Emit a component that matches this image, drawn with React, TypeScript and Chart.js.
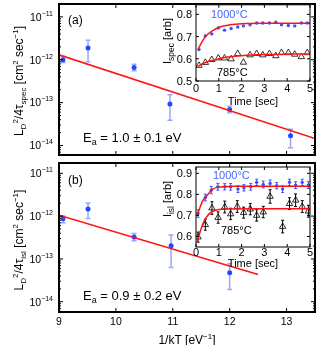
import React, { useEffect, useRef } from 'react';
import { Chart, registerables } from 'chart.js';

Chart.register(...registerables);

const FONT = '"Liberation Sans", Arial, Helvetica, sans-serif';
const BLUE = '#2446ff';
const BLUE_ERR = 'rgba(80,110,255,0.6)';
const INSET_BLUE = '#3355ff';
const RED = '#ff1414';

// ---------- Panel (a): L_D^2/4tau_spec vs 1/kT ----------
const invKT_a = [9.07, 9.51, 10.32, 10.95, 12.0, 13.07];
const spec_a = [1.0e-12, 1.87e-12, 6.6e-13, 9.3e-14, 6.9e-14, 1.69e-14];
const specLow_a = [0.86e-12, 0.9e-12, 5.5e-13, 3.9e-14, 5.8e-14, 0.89e-14];
const specHigh_a = [1.2e-12, 2.85e-12, 7.8e-13, 1.52e-13, 8.2e-14, 2.4e-14];
const fitX_a = [9, 13.5];
const fitY_a = [1.3e-12, 1.45e-14];

// ---------- Panel (b): L_D^2/4tau_isl vs 1/kT ----------
const invKT_b = [9.07, 9.51, 10.32, 10.97, 12.0];
const isl_b = [0.87e-12, 1.47e-12, 3.27e-13, 2.03e-13, 4.75e-14];
const islLow_b = [0.7e-12, 0.88e-12, 2.65e-13, 0.63e-13, 1.92e-14];
const islHigh_b = [1.0e-12, 2.03e-12, 3.9e-13, 3.64e-13, 7.7e-14];
const fitX_b = [9, 12.5];
const fitY_b = [1.05e-12, 4.3e-14];

const xTicksMain = [9, 10, 11, 12, 13];
const decadeTicks = [1e-14, 1e-13, 1e-12, 1e-11];

// ---------- Inset (a): I_spec vs time ----------
const tA = [0.13, 0.41, 0.69, 0.98, 1.25, 1.54, 1.83, 2.08, 2.37, 2.66, 2.93, 3.22, 3.5, 3.75, 4.05, 4.33, 4.62, 4.88];
const specHot = [0.642, 0.703, 0.712, 0.739, 0.729, 0.736, 0.743, 0.748, 0.753, 0.761, 0.761, 0.761, 0.765, 0.753, 0.75, 0.748, 0.761, 0.761];
const specCold = [0.57, 0.583, 0.596, 0.603, 0.603, 0.599, 0.623, 0.584, 0.617, 0.623, 0.617, 0.623, 0.613, 0.627, 0.627, 0.62, 0.609, 0.627];
const fitT_aHot = [0.1, 0.3, 0.5, 0.75, 1.0, 1.5, 2.0, 3.0, 4.0, 5.0];
const fitI_aHot = [0.645, 0.683, 0.709, 0.728, 0.741, 0.753, 0.758, 0.76, 0.76, 0.76];
const fitT_aCold = [0.06, 0.3, 0.6, 1.0, 1.5, 2.0, 3.0, 4.0, 5.0];
const fitI_aCold = [0.565, 0.578, 0.59, 0.6, 0.609, 0.614, 0.619, 0.621, 0.622];
const insetATicksY = [0.5, 0.6, 0.7, 0.8];

// ---------- Inset (b): I_isl vs time ----------
const tBHot = [0.09, 0.41, 0.67, 0.96, 1.26, 1.52, 1.84, 2.1, 2.4, 2.66, 2.95, 3.25, 3.54, 3.8, 4.1, 4.37, 4.66, 4.93];
const islHot = [0.709, 0.785, 0.82, 0.836, 0.836, 0.836, 0.825, 0.831, 0.836, 0.857, 0.847, 0.852, 0.841, 0.825, 0.857, 0.844, 0.857, 0.844];
const islHotErr = [0.018, 0.016, 0.017, 0.016, 0.015, 0.016, 0.016, 0.015, 0.016, 0.015, 0.016, 0.016, 0.015, 0.016, 0.015, 0.016, 0.015, 0.016];
const tBCold = [0.09, 0.41, 0.7, 0.97, 1.26, 1.52, 1.81, 2.09, 2.38, 2.66, 2.95, 3.25, 3.8, 4.1, 4.37, 4.66, 4.93];
const islCold = [0.597, 0.656, 0.735, 0.69, 0.74, 0.707, 0.742, 0.713, 0.73, 0.7, 0.716, 0.79, 0.647, 0.756, 0.772, 0.742, 0.72];
const islColdErr = [0.024, 0.026, 0.03, 0.027, 0.028, 0.027, 0.028, 0.026, 0.027, 0.027, 0.027, 0.032, 0.03, 0.028, 0.03, 0.028, 0.028];
const fitT_bHot = [0.05, 0.2, 0.3, 0.45, 0.6, 0.75, 1.0, 1.5, 2.5, 5.0];
const fitI_bHot = [0.7, 0.745, 0.77, 0.79, 0.81, 0.826, 0.834, 0.838, 0.839, 0.839];
const fitT_bCold = [0.05, 0.15, 0.3, 0.45, 0.6, 0.8, 1.0, 1.5, 2.5, 5.0];
const fitI_bCold = [0.57, 0.61, 0.66, 0.69, 0.71, 0.722, 0.728, 0.731, 0.732, 0.732];
const insetBTicksY = [0.6, 0.7, 0.8, 0.9];
const timeTicks = [0, 1, 2, 3, 4, 5];

// ---------- helpers ----------
type Seg = [string, number, number];
interface TextItem { segs: Seg[]; x: number; y: number; align: 'left' | 'center' | 'right'; rotate?: boolean; color?: string; }
interface ErrSet { xs: number[]; lows: number[]; highs: number[]; color: string; width: number; cap: number; }
interface DecoCfg {
  ox: number; oy: number;
  boxWidth: number;
  xTickVals: number[]; xTickLen: number;
  yMajor: number[]; yMinor: number[]; yTickLen: number; yMinorLen: number;
  xLabels?: { vals: number[]; baseline: number; size: number };
  yLabels?: { vals: number[]; right: number; size: number; segs: (v: number) => Seg[] };
  errs: ErrSet[];
  texts: TextItem[];
}

const pts = (xs: number[], ys: number[]) => xs.map((x, i) => ({ x, y: ys[i] }));

function drawRich(ctx: CanvasRenderingContext2D, t: TextItem, ox: number, oy: number) {
  ctx.save();
  ctx.fillStyle = t.color || '#000';
  ctx.textBaseline = 'alphabetic';
  ctx.textAlign = 'left';
  let total = 0;
  const widths = t.segs.map(([s, size]) => {
    ctx.font = `${size}px ${FONT}`;
    const w = ctx.measureText(s).width;
    total += w;
    return w;
  });
  ctx.translate(t.x - ox, t.y - oy);
  if (t.rotate) ctx.rotate(-Math.PI / 2);
  let cx = t.align === 'left' ? 0 : t.align === 'center' ? -total / 2 : -total;
  t.segs.forEach(([s, size, dy], i) => {
    ctx.font = `${size}px ${FONT}`;
    ctx.fillText(s, cx, dy);
    cx += widths[i];
  });
  ctx.restore();
}

function makeDeco(id: string, cfg: DecoCfg) {
  return {
    id,
    beforeDraw(chart: any) {
      const { ctx, chartArea: a } = chart;
      ctx.save();
      ctx.fillStyle = '#fff';
      ctx.fillRect(a.left, a.top, a.right - a.left, a.bottom - a.top);
      ctx.restore();
    },
    beforeDatasetsDraw(chart: any) {
      const { ctx, chartArea: a, scales } = chart;
      const x = scales.x, y = scales.y;
      ctx.save();
      ctx.beginPath();
      ctx.rect(a.left, a.top, a.right - a.left, a.bottom - a.top);
      ctx.clip();
      for (const eb of cfg.errs) {
        ctx.strokeStyle = eb.color;
        ctx.lineWidth = eb.width;
        eb.xs.forEach((xv, i) => {
          const px = x.getPixelForValue(xv);
          const lo = y.getPixelForValue(eb.lows[i]);
          const hi = y.getPixelForValue(eb.highs[i]);
          ctx.beginPath();
          ctx.moveTo(px, lo); ctx.lineTo(px, hi);
          ctx.moveTo(px - eb.cap, lo); ctx.lineTo(px + eb.cap, lo);
          ctx.moveTo(px - eb.cap, hi); ctx.lineTo(px + eb.cap, hi);
          ctx.stroke();
        });
      }
      ctx.restore();
    },
    afterDraw(chart: any) {
      const { ctx, chartArea: a, scales } = chart;
      const x = scales.x, y = scales.y;
      ctx.save();
      ctx.strokeStyle = '#000';
      ctx.lineWidth = 1;
      ctx.beginPath();
      cfg.xTickVals.forEach((v) => {
        const px = x.getPixelForValue(v);
        ctx.moveTo(px, a.bottom); ctx.lineTo(px, a.bottom - cfg.xTickLen);
        ctx.moveTo(px, a.top); ctx.lineTo(px, a.top + cfg.xTickLen);
      });
      cfg.yMajor.forEach((v) => {
        const py = y.getPixelForValue(v);
        ctx.moveTo(a.left, py); ctx.lineTo(a.left + cfg.yTickLen, py);
        ctx.moveTo(a.right, py); ctx.lineTo(a.right - cfg.yTickLen, py);
      });
      cfg.yMinor.forEach((v) => {
        const py = y.getPixelForValue(v);
        ctx.moveTo(a.left, py); ctx.lineTo(a.left + cfg.yMinorLen, py);
        ctx.moveTo(a.right, py); ctx.lineTo(a.right - cfg.yMinorLen, py);
      });
      ctx.stroke();
      ctx.lineWidth = cfg.boxWidth;
      ctx.strokeRect(a.left, a.top, a.right - a.left, a.bottom - a.top);
      ctx.restore();

      if (cfg.xLabels) {
        const xl = cfg.xLabels;
        xl.vals.forEach((v) => {
          drawRich(ctx, { segs: [[String(v), xl.size, 0]], x: x.getPixelForValue(v) + cfg.ox, y: xl.baseline, align: 'center' }, cfg.ox, cfg.oy);
        });
      }
      if (cfg.yLabels) {
        const yl = cfg.yLabels;
        yl.vals.forEach((v) => {
          drawRich(ctx, { segs: yl.segs(v), x: yl.right, y: y.getPixelForValue(v) + cfg.oy + yl.size * 0.36, align: 'right' }, cfg.ox, cfg.oy);
        });
      }
      cfg.texts.forEach((t) => drawRich(ctx, t, cfg.ox, cfg.oy));
    },
  };
}

function logMinor(decades: number[]) {
  const out: number[] = [];
  const e0 = Math.round(Math.log10(decades[0])) - 1;
  const e1 = Math.round(Math.log10(decades[decades.length - 1]));
  for (let e = e0; e <= e1; e++) for (let m = 2; m <= 9; m++) out.push(m * Math.pow(10, e));
  return out;
}

const decadeSegs = (v: number): Seg[] => [['10', 10.5, 0], ['\u2212' + String(Math.abs(Math.round(Math.log10(v)))), 7, -5]];
const fixed1 = (v: number): Seg[] => [[v.toFixed(1), 11, 0]];

function mainConfig(p: any) {
  const minorAll = logMinor(decadeTicks).filter((v) => v > p.yMin && v < p.yMax);
  return {
    type: 'scatter',
    data: {
      datasets: [
        { data: pts(p.fitX, p.fitY), showLine: true, borderColor: RED, borderWidth: 1.6, pointRadius: 0, fill: false },
        { data: pts(p.xs, p.ys), showLine: false, pointRadius: 2.5, pointBorderWidth: 0, pointBackgroundColor: BLUE, backgroundColor: BLUE, borderColor: BLUE },
      ],
    },
    options: {
      responsive: false,
      animation: false,
      events: [],
      layout: { padding: { top: p.padTop, right: 10, left: 0, bottom: 0 } },
      plugins: { legend: { display: false }, tooltip: { enabled: false }, title: { display: false } },
      scales: {
        x: { type: 'linear', min: 9, max: 13.5, ticks: { display: false }, grid: { display: false }, border: { display: false }, afterFit: (s: any) => { s.height = p.xAxisH; } },
        y: { type: 'logarithmic', min: p.yMin, max: p.yMax, ticks: { display: false }, grid: { display: false }, border: { display: false }, afterFit: (s: any) => { s.width = 59; } },
      },
    },
    plugins: [
      makeDeco(p.id, {
        ox: 0, oy: p.oy, boxWidth: 2,
        xTickVals: xTicksMain, xTickLen: 4,
        yMajor: decadeTicks, yMinor: minorAll, yTickLen: 4, yMinorLen: 2,
        xLabels: p.xLabels,
        yLabels: { vals: decadeTicks.filter((v) => v >= p.yMin && v <= p.yMax), right: 53, size: 10.5, segs: decadeSegs },
        errs: [{ xs: p.xs, lows: p.lows, highs: p.highs, color: BLUE_ERR, width: 1.5, cap: 2.5 }],
        texts: p.texts,
      }),
    ],
  };
}

function insetConfig(p: any) {
  return {
    type: 'scatter',
    data: {
      datasets: [
        { data: pts(p.fitHotT, p.fitHotI), showLine: true, borderColor: RED, borderWidth: 1.5, pointRadius: 0, cubicInterpolationMode: 'monotone', fill: false },
        { data: pts(p.fitColdT, p.fitColdI), showLine: true, borderColor: RED, borderWidth: 1.5, pointRadius: 0, cubicInterpolationMode: 'monotone', fill: false },
        { data: pts(p.hotT, p.hotI), showLine: false, pointRadius: 1.7, pointBorderWidth: 0, pointBackgroundColor: INSET_BLUE, backgroundColor: INSET_BLUE, borderColor: INSET_BLUE },
        { data: pts(p.coldT, p.coldI), showLine: false, pointStyle: 'triangle', pointRadius: 3.7, pointBorderWidth: 0.8, pointBorderColor: '#000', pointBackgroundColor: 'rgba(0,0,0,0)', borderColor: '#000', backgroundColor: 'rgba(0,0,0,0)' },
      ],
    },
    options: {
      responsive: false,
      animation: false,
      events: [],
      layout: { padding: { top: p.padTop, right: 10, left: 0, bottom: 0 } },
      plugins: { legend: { display: false }, tooltip: { enabled: false }, title: { display: false } },
      scales: {
        x: { type: 'linear', min: 0, max: 5, ticks: { display: false }, grid: { display: false }, border: { display: false }, afterFit: (s: any) => { s.height = p.xAxisH; } },
        y: { type: 'linear', min: p.yMin, max: p.yMax, ticks: { display: false }, grid: { display: false }, border: { display: false }, afterFit: (s: any) => { s.width = 36; } },
      },
    },
    plugins: [
      makeDeco(p.id, {
        ox: 160, oy: p.oy, boxWidth: 1,
        xTickVals: timeTicks, xTickLen: 3,
        yMajor: p.yTicks, yMinor: [], yTickLen: 3, yMinorLen: 0,
        xLabels: { vals: timeTicks, baseline: p.xLabelBase, size: 11 },
        yLabels: { vals: p.yTicks, right: 192, size: 11, segs: fixed1 },
        errs: p.errs,
        texts: p.texts,
      }),
    ],
  };
}

function ChartCanvas({ left, top, width, height, build }: { left: number; top: number; width: number; height: number; build: () => any }) {
  const ref = useRef<HTMLCanvasElement>(null);
  useEffect(() => {
    const chart = new Chart(ref.current as HTMLCanvasElement, build());
    return () => chart.destroy();
  }, []);
  return <canvas ref={ref} width={width} height={height} style={{ position: 'absolute', left, top, width, height, display: 'block' }} />;
}

const buildMainA = () => mainConfig({
  id: 'decoMainA', oy: 0, padTop: 2, xAxisH: 5,
  xs: invKT_a, ys: spec_a, lows: specLow_a, highs: specHigh_a, fitX: fitX_a, fitY: fitY_a,
  yMin: Math.pow(10, -14.2), yMax: Math.pow(10, -10.7),
  texts: [
    { segs: [['(a)', 12, 0]], x: 68, y: 24.3, align: 'left' },
    { segs: [['E', 13, 0], ['a', 9, 3], [' = 1.0 \u00b1 0.1 eV', 13, 0]], x: 83, y: 141.7, align: 'left' },
    { segs: [['L', 12, 0], ['D', 8, 3], ['2', 8, -5], ['/4\u03c4', 12, 0], ['spec', 8, 3], [' [cm', 12, 0], ['2', 8, -5], [' sec', 12, 0], ['\u22121', 8, -5], [']', 12, 0]], x: 22.5, y: 81, align: 'center', rotate: true },
  ],
});

const buildMainB = () => mainConfig({
  id: 'decoMainB', oy: 159, padTop: 2, xAxisH: 33,
  xs: invKT_b, ys: isl_b, lows: islLow_b, highs: islHigh_b, fitX: fitX_b, fitY: fitY_b,
  yMin: Math.pow(10, -14.24), yMax: Math.pow(10, -10.76),
  xLabels: { vals: xTicksMain, baseline: 324.8, size: 10.5 },
  texts: [
    { segs: [['(b)', 12, 0]], x: 68, y: 184.3, align: 'left' },
    { segs: [['E', 13, 0], ['a', 9, 3], [' = 0.9 \u00b1 0.2 eV', 13, 0]], x: 83, y: 299.7, align: 'left' },
    { segs: [['L', 12, 0], ['D', 8, 3], ['2', 8, -5], ['/4\u03c4', 12, 0], ['isl', 8, 3], [' [cm', 12, 0], ['2', 8, -5], [' sec', 12, 0], ['\u22121', 8, -5], [']', 12, 0]], x: 22.5, y: 240, align: 'center', rotate: true },
    { segs: [['1/kT [eV', 12, 0], ['\u22121', 8, -5], [']', 12, 0]], x: 187, y: 344.3, align: 'center' },
  ],
});

const buildInsetA = () => insetConfig({
  id: 'decoInsetA', oy: 0, padTop: 2, xAxisH: 29, yMin: 0.5, yMax: 0.843, yTicks: insetATicksY, xLabelBase: 91.5,
  fitHotT: fitT_aHot, fitHotI: fitI_aHot, fitColdT: fitT_aCold, fitColdI: fitI_aCold,
  hotT: tA, hotI: specHot, coldT: tA, coldI: specCold,
  errs: [],
  texts: [
    { segs: [['Time [sec]', 11, 0]], x: 253, y: 105, align: 'center' },
    { segs: [['I', 11, 0], ['spec', 8.5, 3], [' [arb]', 11, 0]], x: 171, y: 41, align: 'center', rotate: true },
    { segs: [['1000\u00b0C', 11, 0]], x: 211, y: 18, align: 'left', color: '#4466ff' },
    { segs: [['785\u00b0C', 11, 0]], x: 217, y: 76, align: 'left' },
  ],
});

const buildInsetB = () => insetConfig({
  id: 'decoInsetB', oy: 160, padTop: 7, xAxisH: 25, yMin: 0.55, yMax: 0.93, yTicks: insetBTicksY, xLabelBase: 256,
  fitHotT: fitT_bHot, fitHotI: fitI_bHot, fitColdT: fitT_bCold, fitColdI: fitI_bCold,
  hotT: tBHot, hotI: islHot, coldT: tBCold, coldI: islCold,
  errs: [
    { xs: tBHot, lows: islHot.map((v, i) => v - islHotErr[i]), highs: islHot.map((v, i) => v + islHotErr[i]), color: INSET_BLUE, width: 1, cap: 1.5 },
    { xs: tBCold, lows: islCold.map((v, i) => v - islColdErr[i]), highs: islCold.map((v, i) => v + islColdErr[i]), color: '#000', width: 1, cap: 1.5 },
  ],
  texts: [
    { segs: [['Time [sec]', 11, 0]], x: 253, y: 267, align: 'center' },
    { segs: [['I', 11, 0], ['isl', 8.5, 3], [' [arb]', 11, 0]], x: 171, y: 199, align: 'center', rotate: true },
    { segs: [['1000\u00b0C', 11, 0]], x: 213, y: 179, align: 'left', color: '#4466ff' },
    { segs: [['785\u00b0C', 11, 0]], x: 221, y: 234, align: 'left' },
  ],
});

export default function App() {
  return (
    <div style={{ position: 'absolute', left: 0, top: 0, width: 325, height: 345, background: '#fff', overflow: 'hidden' }}>
      <ChartCanvas left={0} top={0} width={325} height={160} build={buildMainA} />
      <ChartCanvas left={0} top={159} width={325} height={186} build={buildMainB} />
      <ChartCanvas left={160} top={0} width={160} height={110} build={buildInsetA} />
      <ChartCanvas left={160} top={160} width={160} height={112} build={buildInsetB} />
    </div>
  );
}
